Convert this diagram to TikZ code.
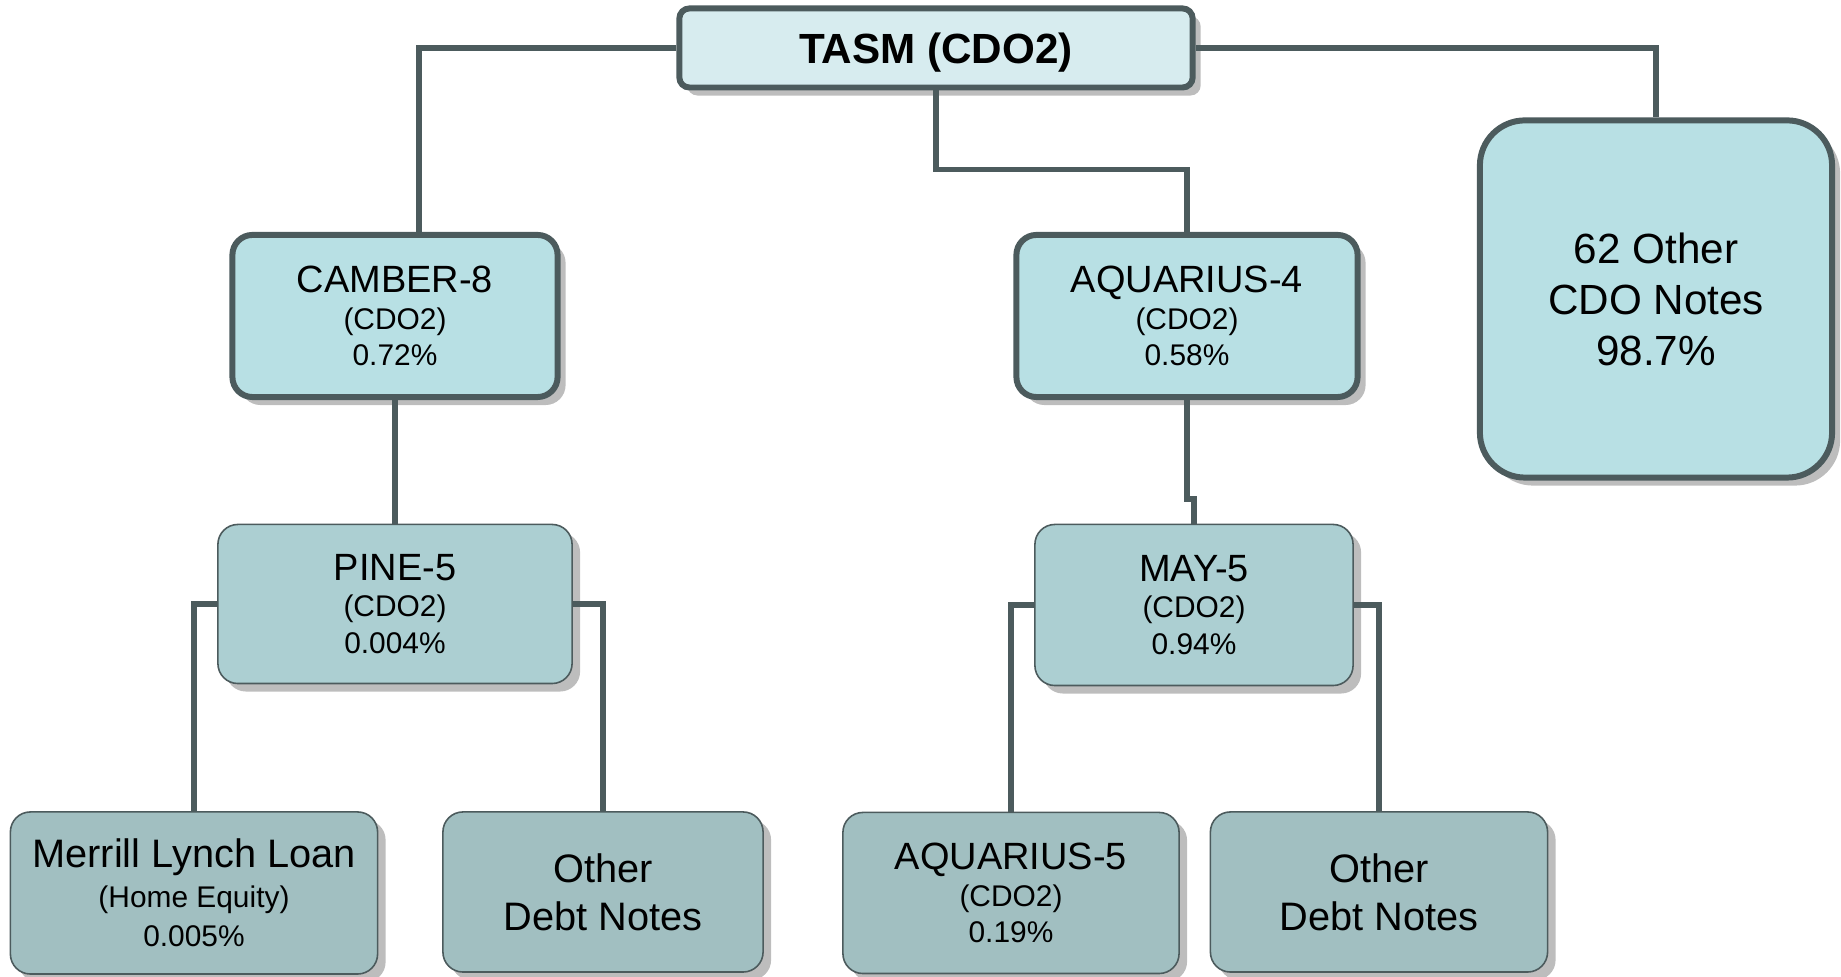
\documentclass[tikz,border=0pt]{standalone}
\usepackage{fontspec}
\setmainfont{Liberation Sans}
\usepackage{tikz}
\usetikzlibrary{shadows}

\definecolor{edgegray}{HTML}{4C5B5D}
\definecolor{toplevel}{HTML}{D7ECEF}
\definecolor{cdolevel}{HTML}{B8E0E4}
\definecolor{sublevel}{HTML}{ACCFD2}
\definecolor{leaflevel}{HTML}{A1BFC1}

\newcommand{\subline}[1]{{\fontsize{8.5}{10}\selectfont #1}}

\tikzset{
  box/.style={rectangle, align=center, inner sep=0pt, text=black,
    font=\fontsize{10.8}{10.4}\selectfont,
    drop shadow={shadow xshift=0.08cm, shadow yshift=-0.08cm, fill=black!26, opacity=1}},
  thickbox/.style={box, draw=edgegray, line width=1.7pt, rounded corners=0.2cm},
  thinbox/.style={box, draw=edgegray, line width=0.45pt, rounded corners=0.2cm},
  link/.style={draw=edgegray, line width=1.7pt},
}

\begin{document}
\begin{tikzpicture}[x=0.01cm, y=-0.01cm]% one unit is one pixel, y runs down
    \useasboundingbox (0,0) rectangle (1841,977);

    % top of the tree
    \node[thickbox, fill=toplevel, rounded corners=0.1cm, minimum width=5.13cm, minimum height=0.79cm,
          text depth=0pt, font=\fontsize{12}{14}\selectfont\bfseries] (TASM) at (936,48) {TASM (CDO2)};

    % second row
    \node[thickbox, fill=cdolevel, minimum width=3.25cm, minimum height=1.62cm] (Camber) at (395,316)
        {CAMBER-8\\\subline{(CDO2)}\\\subline{0.72\%}};
    \node[thickbox, fill=cdolevel, minimum width=3.41cm, minimum height=1.62cm] (Aquarius4) at (1187,316)
        {AQUARIUS-4\\\subline{(CDO2)}\\\subline{0.58\%}};
    \node[thickbox, fill=cdolevel, rounded corners=0.45cm, minimum width=3.52cm, minimum height=3.57cm,
          font=\fontsize{12}{14.5}\selectfont] (OtherCDO) at (1656,299)
        {62 Other\\CDO Notes\\98.7\%};

    % third row
    \node[thinbox, fill=sublevel, minimum width=3.54cm, minimum height=1.59cm] (Pine) at (395,604)
        {PINE-5\\\subline{(CDO2)}\\\subline{0.004\%}};
    \node[thinbox, fill=sublevel, minimum width=3.18cm, minimum height=1.61cm] (May) at (1194,605)
        {MAY-5\\\subline{(CDO2)}\\\subline{0.94\%}};

    % bottom row
    \node[thinbox, fill=leaflevel, minimum width=3.67cm, minimum height=1.62cm,
          font=\fontsize{11.3}{11.2}\selectfont] (Merrill) at (194,893)
        {Merrill Lynch Loan\\\subline{(Home Equity)}\\\subline{0.005\%}};
    \node[thinbox, fill=leaflevel, minimum width=3.20cm, minimum height=1.60cm,
          font=\fontsize{11.3}{13.7}\selectfont] (DebtA) at (603,892)
        {Other\\Debt Notes};
    \node[thinbox, fill=leaflevel, minimum width=3.36cm, minimum height=1.61cm] (Aquarius5) at (1011,893)
        {AQUARIUS-5\\\subline{(CDO2)}\\\subline{0.19\%}};
    \node[thinbox, fill=leaflevel, minimum width=3.37cm, minimum height=1.60cm,
          font=\fontsize{11.3}{13.7}\selectfont] (DebtB) at (1379,892)
        {Other\\Debt Notes};

    % connectors
    \draw[link] (TASM.west) -| ([xshift=0.24cm]Camber.north);
    \draw[link] (TASM.east) -| (OtherCDO.north);
    \draw[link] (TASM.south) -- ++(0,79) -| (Aquarius4.north);
    \draw[link] (Camber.south) -- (Pine.north);
    \draw[link] (Aquarius4.south) -- ++(0,99) -| (May.north);% small step as in the chart
    \draw[link] (Pine.west) -| (Merrill.north);
    \draw[link] (Pine.east) -| (DebtA.north);
    \draw[link] (May.west) -| (Aquarius5.north);
    \draw[link] (May.east) -| (DebtB.north);
\end{tikzpicture}
\end{document}
